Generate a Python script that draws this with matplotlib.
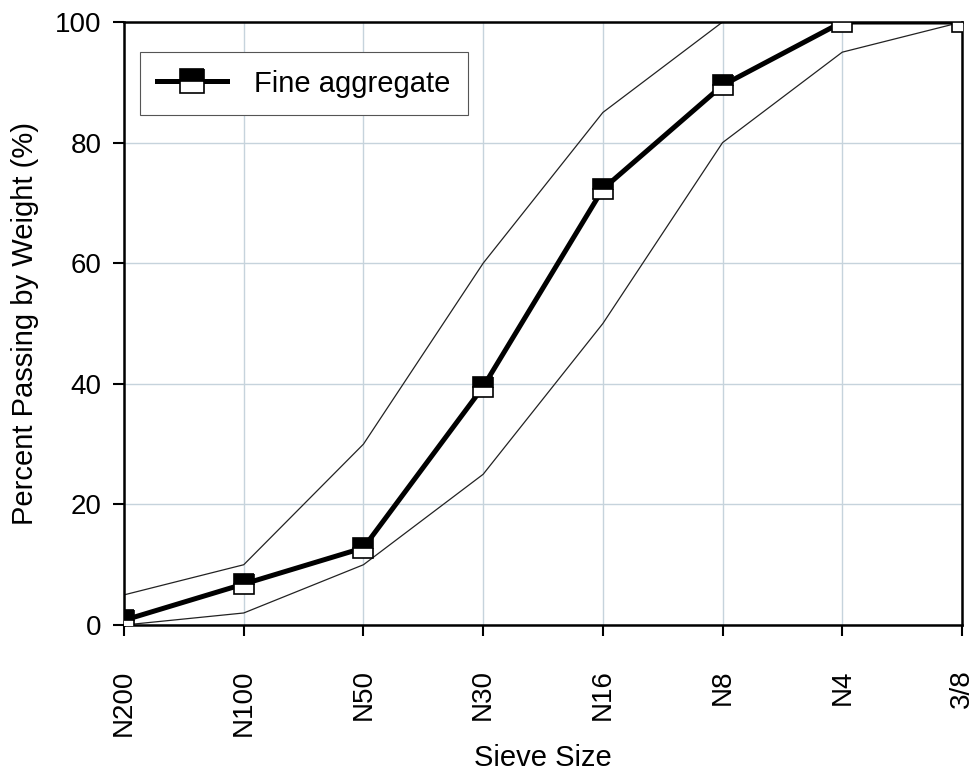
import matplotlib.pyplot as plt

plt.rcParams['font.family'] = ['Liberation Sans', 'DejaVu Sans']

# 筛孔尺寸
sieves = ["N200", "N100", "N50", "N30", "N16", "N8", "N4", "3/8"]
# 细骨料通过率
fine = [0.8, 6.8, 12.8, 39.5, 72.3, 89.5, 100, 100]
# 级配上限 / 下限
upper = [5, 10, 30, 60, 85, 100, 100, 100]
lower = [0, 2, 10, 25, 50, 80, 95, 100]

x = list(range(len(sieves)))

fig = plt.figure(figsize=(9.79, 7.75), dpi=100)
ax = fig.add_axes([0.1267, 0.1935, 0.8559, 0.7781])

ax.plot(x, upper, color='#222222', lw=0.9, zorder=2)
ax.plot(x, lower, color='#222222', lw=0.9, zorder=2)
ax.plot(x, fine, color='black', lw=3.6, marker='s', markersize=14.5,
        fillstyle='top', markerfacecolor='black', markerfacecoloralt='white',
        markeredgecolor='black', markeredgewidth=1.2, label='Fine aggregate', zorder=3)

ax.set_xlim(0, len(sieves) - 1)
ax.set_ylim(0, 100)
ax.set_xticks(x)
ax.set_xticklabels(sieves, rotation=90, fontsize=20)
ax.set_yticks([0, 20, 40, 60, 80, 100])
ax.tick_params(axis='y', labelsize=20, direction='out', length=8, width=1.5, pad=8)
ax.tick_params(axis='x', direction='out', length=8, width=1.5, pad=24)

ax.grid(True, color='#c6d3dc', lw=1.0, zorder=0)
for s in ax.spines.values():
    s.set_linewidth(1.8)
    s.set_color('black')

ax.set_xlabel("Sieve Size", fontsize=21, labelpad=6)
ax.set_ylabel("Percent Passing by Weight (%)", fontsize=21, labelpad=12)

leg = ax.legend(loc='upper left', bbox_to_anchor=(0.019, 0.95), borderaxespad=0,
                fontsize=21, fancybox=False, framealpha=1, edgecolor='#555555',
                handlelength=2.4, borderpad=0.6, handletextpad=0.9, markerscale=1.15)
leg.get_frame().set_linewidth(0.8)

plt.savefig("out.png", dpi=100)
